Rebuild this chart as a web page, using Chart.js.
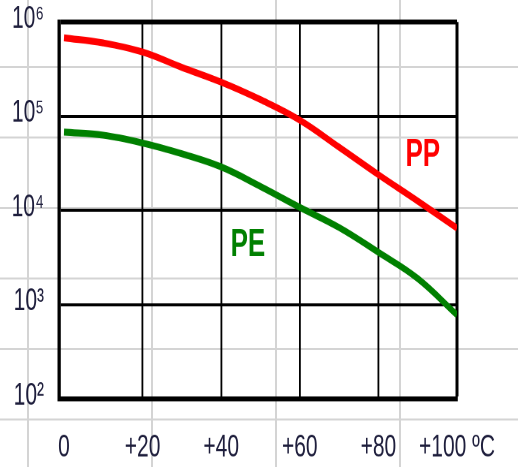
<!DOCTYPE html>
<html>
<head>
<meta charset="utf-8">
<script src="https://cdn.jsdelivr.net/npm/chart.js@4.4.0/dist/chart.umd.min.js"></script>
<style>
html,body{margin:0;padding:0;}
body{width:518px;height:467px;overflow:hidden;background-color:#fff;
background-image:linear-gradient(to right,#d4d4d4 0,#d4d4d4 2px,transparent 2px),linear-gradient(to bottom,#d4d4d4 0,#d4d4d4 2px,transparent 2px);
background-size:124px 100%,100% 70.5px;background-position:27px 0,0 66px;}
#wrap{position:absolute;left:0;top:0;width:518px;height:311px;transform:scaleY(1.50161);transform-origin:0 0;}
</style>
</head>
<body>
<div id="wrap"><canvas id="c" width="518" height="311"></canvas></div>
<script>
// ---- data ----
const temps = [0, 10, 20, 30, 40, 50, 60, 70, 80, 90, 100];
const ppValues = [6.8e5, 6.0e5, 4.8e5, 3.3e5, 2.3e5, 1.5e5, 9.1e4, 4.7e4, 2.4e4, 1.26e4, 6.5e3];
const peValues = [6.8e4, 6.3e4, 5.2e4, 4.0e4, 2.9e4, 1.8e4, 1.08e4, 6.6e3, 3.6e3, 1.9e3, 7.8e2];
const seriesNames = ['PP', 'PE'];
const xTicks = [0, 20, 40, 60, 80, 100];
const xTickLabels = ['0', '+20', '+40', '+60', '+80', '+100 ºC'];
const yTicks = [100, 1000, 10000, 100000, 1000000];
const yTickLabels = ['10²', '10³', '10⁴', '10⁵', '10⁶'];

const FONT = '"Liberation Sans Narrow", "Arial Narrow", "Liberation Sans", sans-serif';

const seriesLabelPlugin = {
  id: 'seriesLabels',
  afterDatasetsDraw(chart) {
    const {ctx, scales} = chart;
    const spots = [
      {text: seriesNames[0], color: '#ff0000', x: 91.3, y: 3.85e4},
      {text: seriesNames[1], color: '#008000', x: 46.8, y: 4.3e3}
    ];
    ctx.save();
    ctx.font = 'bold 26px ' + FONT;
    ctx.textAlign = 'center';
    ctx.textBaseline = 'middle';
    spots.forEach(s => {
      ctx.fillStyle = s.color;
      ctx.fillText(s.text, scales.x.getPixelForValue(s.x), scales.y.getPixelForValue(s.y));
    });
    ctx.restore();
  }
};

new Chart(document.getElementById('c'), {
  type: 'line',
  data: {
    datasets: [
      {label: seriesNames[0], data: temps.map((t, i) => ({x: t, y: ppValues[i]})),
       borderColor: '#ff0000', borderWidth: 4.6, pointRadius: 0, fill: false,
       tension: 0.4},
      {label: seriesNames[1], data: temps.map((t, i) => ({x: t, y: peValues[i]})),
       borderColor: '#008000', borderWidth: 4.6, pointRadius: 0, fill: false,
       tension: 0.4}
    ]
  },
  options: {
    responsive: false,
    animation: false,
    devicePixelRatio: 2,
    layout: {padding: {top: 14.65, right: 61, left: 0, bottom: 0}},
    plugins: {legend: {display: false}, tooltip: {enabled: false}},
    scales: {
      x: {
        type: 'linear', min: -1.27, max: 100,
        afterBuildTicks: s => { s.ticks = xTicks.map(v => ({value: v})); },
        afterFit: s => { s.height = 45.3; s.paddingLeft = 0; s.paddingRight = 0; },
        grid: {
          drawTicks: false,
          color: c => (c.tick && c.tick.value === 0) ? 'rgba(0,0,0,0)' : '#000',
          lineWidth: c => (c.tick && c.tick.value === 100) ? 3 : 1.8
        },
        border: {color: '#000', width: 3.3},
        ticks: {
          padding: 20, maxRotation: 0, autoSkip: false, color: '#1e1e3c',
          font: {family: FONT, size: 21},
          callback: v => xTickLabels[xTicks.indexOf(v)]
        }
      },
      y: {
        type: 'logarithmic', min: 100, max: 1000000,
        afterBuildTicks: s => { s.ticks = yTicks.map(v => ({value: v})); },
        afterFit: s => { s.width = 59; s.paddingTop = 0; s.paddingBottom = 0; },
        grid: {
          drawTicks: false, color: '#000',
          lineWidth: c => (c.tick && c.tick.value === 1000000) ? 3.3 : 2
        },
        border: {color: '#000', width: 3.3},
        ticks: {
          padding: 15, color: '#1e1e3c', labelOffset: -2,
          font: {family: FONT, size: 21},
          callback: v => yTickLabels[yTicks.indexOf(v)]
        }
      }
    }
  },
  plugins: [seriesLabelPlugin]
});
</script>
</body>
</html>
